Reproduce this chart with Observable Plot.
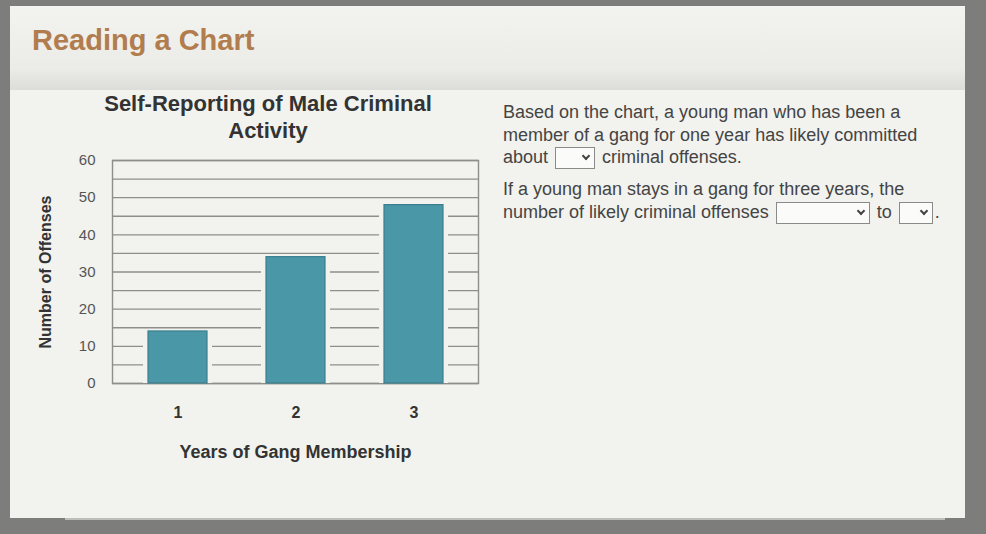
<!DOCTYPE html>
<html>
<head>
<meta charset="utf-8">
<script src="https://cdn.jsdelivr.net/npm/d3@7"></script>
<script src="https://cdn.jsdelivr.net/npm/@observablehq/plot@0.6"></script>
<style>
  html, body { margin: 0; padding: 0; }
  body { width: 986px; height: 534px; overflow: hidden; background: #7d7d7b; position: relative; font-family: "Liberation Sans", Arial, sans-serif; }
  #page { position: absolute; left: 10px; top: 6px; width: 955px; height: 512px; background: #f2f2ee; }
  #header { position: absolute; left: 0; top: 0; width: 100%; height: 84px; background: linear-gradient(#f3f3ef, #ebebe7 75%, #dcdcd8); }
  #header h1 { position: absolute; left: 22px; top: 18px; margin: 0; font-size: 29px; font-weight: bold; color: #b17d4e; }
  #ctitle { position: absolute; left: 58px; top: 84px; width: 400px; text-align: center; font-size: 22px; font-weight: bold; line-height: 27px; color: #333; }
  #chart { position: absolute; left: 10px; top: 139px; }
  #q { position: absolute; left: 493px; top: 95px; width: 470px; font-size: 18px; color: #444; line-height: 22.5px; white-space: nowrap; }
  #q p { margin: 0 0 9px 0; }
  .sel { display: inline-block; vertical-align: middle; height: 20px; border: 1px solid #8a8a8a; background: #fbfbf9; position: relative; margin: 0 2px; }
  .sel::after { content: ""; position: absolute; right: 5px; top: 5px; width: 4px; height: 4px; border-right: 2px solid #444; border-bottom: 2px solid #444; transform: rotate(45deg); }
  #bottomline { position: absolute; left: 55px; top: 512px; width: 880px; height: 2px; background: #bdbdb9; }
</style>
</head>
<body>
<div id="page">
  <div id="header"><h1>Reading a Chart</h1></div>
  <div id="ctitle">Self-Reporting of Male Criminal<br>Activity</div>
  <div id="chart"></div>
  <div id="q">
    <p>Based on the chart, a young man who has been a<br>member of a gang for one year has likely committed<br>about <span class="sel" style="width:38px"></span> criminal offenses.</p>
    <p>If a young man stays in a gang for three years, the<br>number of likely criminal offenses <span class="sel" style="width:92px"></span> to <span class="sel" style="width:32px"></span>.</p>
  </div>
  <div id="bottomline"></div>
</div>
<script>
const years = ["1", "2", "3"];
const offenses = [14, 34, 48];
const gridLines = [0, 5, 10, 15, 20, 25, 30, 35, 40, 45, 50, 55, 60];
const yTicks = [0, 10, 20, 30, 40, 50, 60];
const xLabel = "Years of Gang Membership";
const yLabel = "Number of Offenses";

const data = years.map((y, i) => ({year: y, value: offenses[i]}));

const chart = Plot.plot({
  width: 480,
  height: 330,
  marginLeft: 92,
  marginRight: 22,
  marginTop: 15,
  marginBottom: 92,
  style: {background: "transparent", fontFamily: "Liberation Sans, Arial, sans-serif"},
  x: {domain: years, paddingInner: 0.5, paddingOuter: 0.3},
  y: {domain: [0, 60]},
  marks: [
    Plot.ruleY(gridLines, {stroke: "#8e8e8c", strokeWidth: 1.4}),
    Plot.frame({stroke: "#8e8e8c", strokeWidth: 1.4}),
    Plot.barY(data, {x: "year", y: "value", fill: "#f2f2ee", insetLeft: -5, insetRight: -5}),
    Plot.barY(data, {x: "year", y: "value", fill: "#4a97a7", stroke: "#3b7f8e", strokeWidth: 1.2}),
    Plot.axisY({ticks: yTicks, tickSize: 0, tickPadding: 17, label: null, fontSize: 15, fill: "#555"}),
    Plot.axisX({tickSize: 0, tickPadding: 23, label: null, fontSize: 16, fontWeight: "bold", fill: "#333"}),
    Plot.text([xLabel], {frameAnchor: "bottom", dy: 74, fontSize: 18, fontWeight: "bold", fill: "#333"}),
    Plot.text([yLabel], {frameAnchor: "left", textAnchor: "middle", rotate: -90, dx: -67, fontSize: 16, fontWeight: "bold", fill: "#333"})
  ]
});
document.getElementById("chart").appendChild(chart);
</script>
</body>
</html>
